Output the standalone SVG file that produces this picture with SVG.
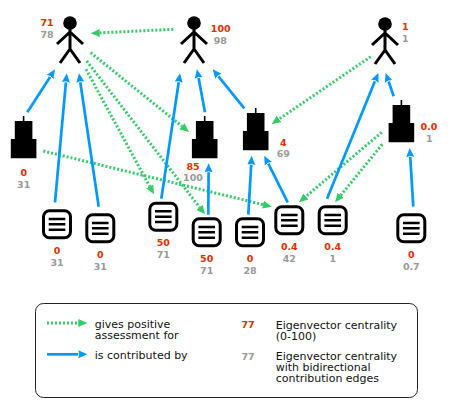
<svg xmlns="http://www.w3.org/2000/svg" width="453" height="414" viewBox="0 0 453 414">
<style>
text{font-family:"DejaVu Sans",sans-serif}
.r{font-size:9.5px;font-weight:bold;fill:#e62e00;text-anchor:middle}
.g{font-size:9.5px;font-weight:bold;fill:#999;text-anchor:middle}
.t{font-size:11px;fill:#111}
.b{fill:none;stroke:#0099ff;stroke-width:2.700}
.d{fill:none;stroke:#33cc66;stroke-width:3;stroke-dasharray:2 2}
.s{fill:none;stroke:#000;stroke-width:3}
</style>
<defs>
<marker id="ab" markerUnits="userSpaceOnUse" markerWidth="10" markerHeight="10" refX="0" refY="5" orient="auto"><path d="M0 1L9 5L0 9L1 5Z" fill="#0099ff"/></marker>
<marker id="ag" markerUnits="userSpaceOnUse" markerWidth="10" markerHeight="10" refX="0" refY="5" orient="auto"><path d="M0 1L9 5L0 9Z" fill="#33cc66"/></marker>
<g id="person"><circle cx="0" cy="0" r="6.8" fill="#000"/><path class="s" d="M0 6V27M-13 21L0 9L13 21M-10 40L0 26L10 40"/></g>
<g id="bldg"><path d="M-.8 0H.8V5H8.8V23H12.8V42.300H-12.800V23H-8.800V5H-.8Z" fill="#000"/></g>
<g id="doc"><rect x="-13.500" y="-13.500" width="27" height="27" rx="6" fill="#fff" stroke="#000" stroke-width="3"/><path d="M-8.300 -5.400H8.300M-8.300 0H8.300M-8.300 5.400H8.300" stroke="#000" stroke-width="2.500" fill="none"/></g>
</defs>
<g id="connectors">
<path class="d" marker-end="url(#ag)" d="M173.300 29.300L99.700 32.900"/>
<path class="d" marker-end="url(#ag)" d="M90.700 52.700L182 126.300"/>
<path class="d" marker-end="url(#ag)" d="M86.700 61L199.500 207.200"/>
<path class="d" marker-end="url(#ag)" d="M86 69.300L149.700 186.400"/>
<path class="d" marker-end="url(#ag)" d="M43.300 151L263 204.600"/>
<path class="d" marker-end="url(#ag)" d="M370.700 56.700L279.100 119"/>
<path class="d" marker-end="url(#ag)" d="M381.700 132.300L305.900 196.500"/>
<path class="d" marker-end="url(#ag)" d="M382.300 144.300L340.700 195.300"/>
<path class="b" marker-end="url(#ab)" d="M27.300 112.300L50.100 76.900"/>
<path class="b" marker-end="url(#ab)" d="M55 202.300L65.900 82.300"/>
<path class="b" marker-end="url(#ab)" d="M98.700 206.700L80.300 82.200"/>
<path class="b" marker-end="url(#ab)" d="M161.300 198.700L178.700 82.200"/>
<path class="b" marker-end="url(#ab)" d="M205 112.300L198.600 78.100"/>
<path class="b" marker-end="url(#ab)" d="M244.300 108.300L218.400 76.300"/>
<path class="b" marker-end="url(#ab)" d="M208.300 214.700L208.600 172.300"/>
<path class="b" marker-end="url(#ab)" d="M248.300 214.700L251.200 164.700"/>
<path class="b" marker-end="url(#ab)" d="M287.700 202.300L268.300 163.700"/>
<path class="b" marker-end="url(#ab)" d="M327 198.700L374.900 81.300"/>
<path class="b" marker-end="url(#ab)" d="M393.700 96.300L388.600 81.500"/>
<path class="b" marker-end="url(#ab)" d="M413.300 206.700L410.200 157"/>
</g>
<g id="person1"><use href="#person" x="70" y="23"/><text class="r" x="47" y="26">71</text><text class="g" x="47" y="37.500">78</text></g>
<g id="person2"><use href="#person" x="194" y="23"/><text class="r" x="220.700" y="32">100</text><text class="g" x="220.300" y="43.700">98</text></g>
<g id="person3"><use href="#person" x="385" y="24"/><text class="r" x="405.300" y="30">1</text><text class="g" x="405.300" y="41.700">1</text></g>
<g id="building1"><use href="#bldg" x="23.600" y="116"/><text class="r" x="23.700" y="175.500">0</text><text class="g" x="23.700" y="187.500">31</text></g>
<g id="building2"><use href="#bldg" x="204.700" y="116"/><text class="r" x="193" y="169.500">85</text><text class="g" x="193" y="181">100</text></g>
<g id="building3"><use href="#bldg" x="255.700" y="108"/><text class="r" x="283.300" y="146">4</text><text class="g" x="283.300" y="157">69</text></g>
<g id="building4"><use href="#bldg" x="401.400" y="100"/><text class="r" x="429" y="130">0.0</text><text class="g" x="429.300" y="141.500">1</text></g>
<g id="doc1"><use href="#doc" x="57" y="224.300"/><text class="r" x="57" y="254">0</text><text class="g" x="57" y="266">31</text></g>
<g id="doc2"><use href="#doc" x="100.300" y="228.300"/><text class="r" x="100.300" y="258">0</text><text class="g" x="100.300" y="270">31</text></g>
<g id="doc3"><use href="#doc" x="163.300" y="216.700"/><text class="r" x="163.300" y="246">50</text><text class="g" x="163.300" y="258">71</text></g>
<g id="doc4"><use href="#doc" x="206.700" y="232.300"/><text class="r" x="206.700" y="262">50</text><text class="g" x="206.700" y="274">71</text></g>
<g id="doc5"><use href="#doc" x="250" y="232.300"/><text class="r" x="250" y="262">0</text><text class="g" x="250" y="274">28</text></g>
<g id="doc6"><use href="#doc" x="289.300" y="220.300"/><text class="r" x="289.300" y="250">0.4</text><text class="g" x="289.300" y="262">42</text></g>
<g id="doc7"><use href="#doc" x="332.700" y="220.300"/><text class="r" x="332.700" y="250">0.4</text><text class="g" x="332.700" y="262">1</text></g>
<g id="doc8"><use href="#doc" x="411.300" y="228.300"/><text class="r" x="411.300" y="258">0</text><text class="g" x="411.300" y="270">0.7</text></g>
<g id="legend">
<rect x="35.500" y="303.500" width="382" height="94" rx="8" fill="#fff" stroke="#222" stroke-width="1"/>
<path class="d" marker-end="url(#ag)" d="M47 323H78.300"/>
<path class="b" marker-end="url(#ab)" d="M47 354.300H78.300"/>
<text class="t" x="94.700" y="327.500">gives positive</text>
<text class="t" x="94.700" y="338.500">assessment for</text>
<text class="t" x="94.700" y="358.500">is contributed by</text>
<text class="r" x="248" y="328">77</text>
<text class="t" x="275.700" y="328.500">Eigenvector centrality</text>
<text class="t" x="275.700" y="339.500">(0-100)</text>
<text class="g" x="248" y="360">77</text>
<text class="t" x="275.700" y="360">Eigenvector centrality</text>
<text class="t" x="275.700" y="371">with bidirectional</text>
<text class="t" x="275.700" y="382">contribution edges</text>
</g>
</svg>
